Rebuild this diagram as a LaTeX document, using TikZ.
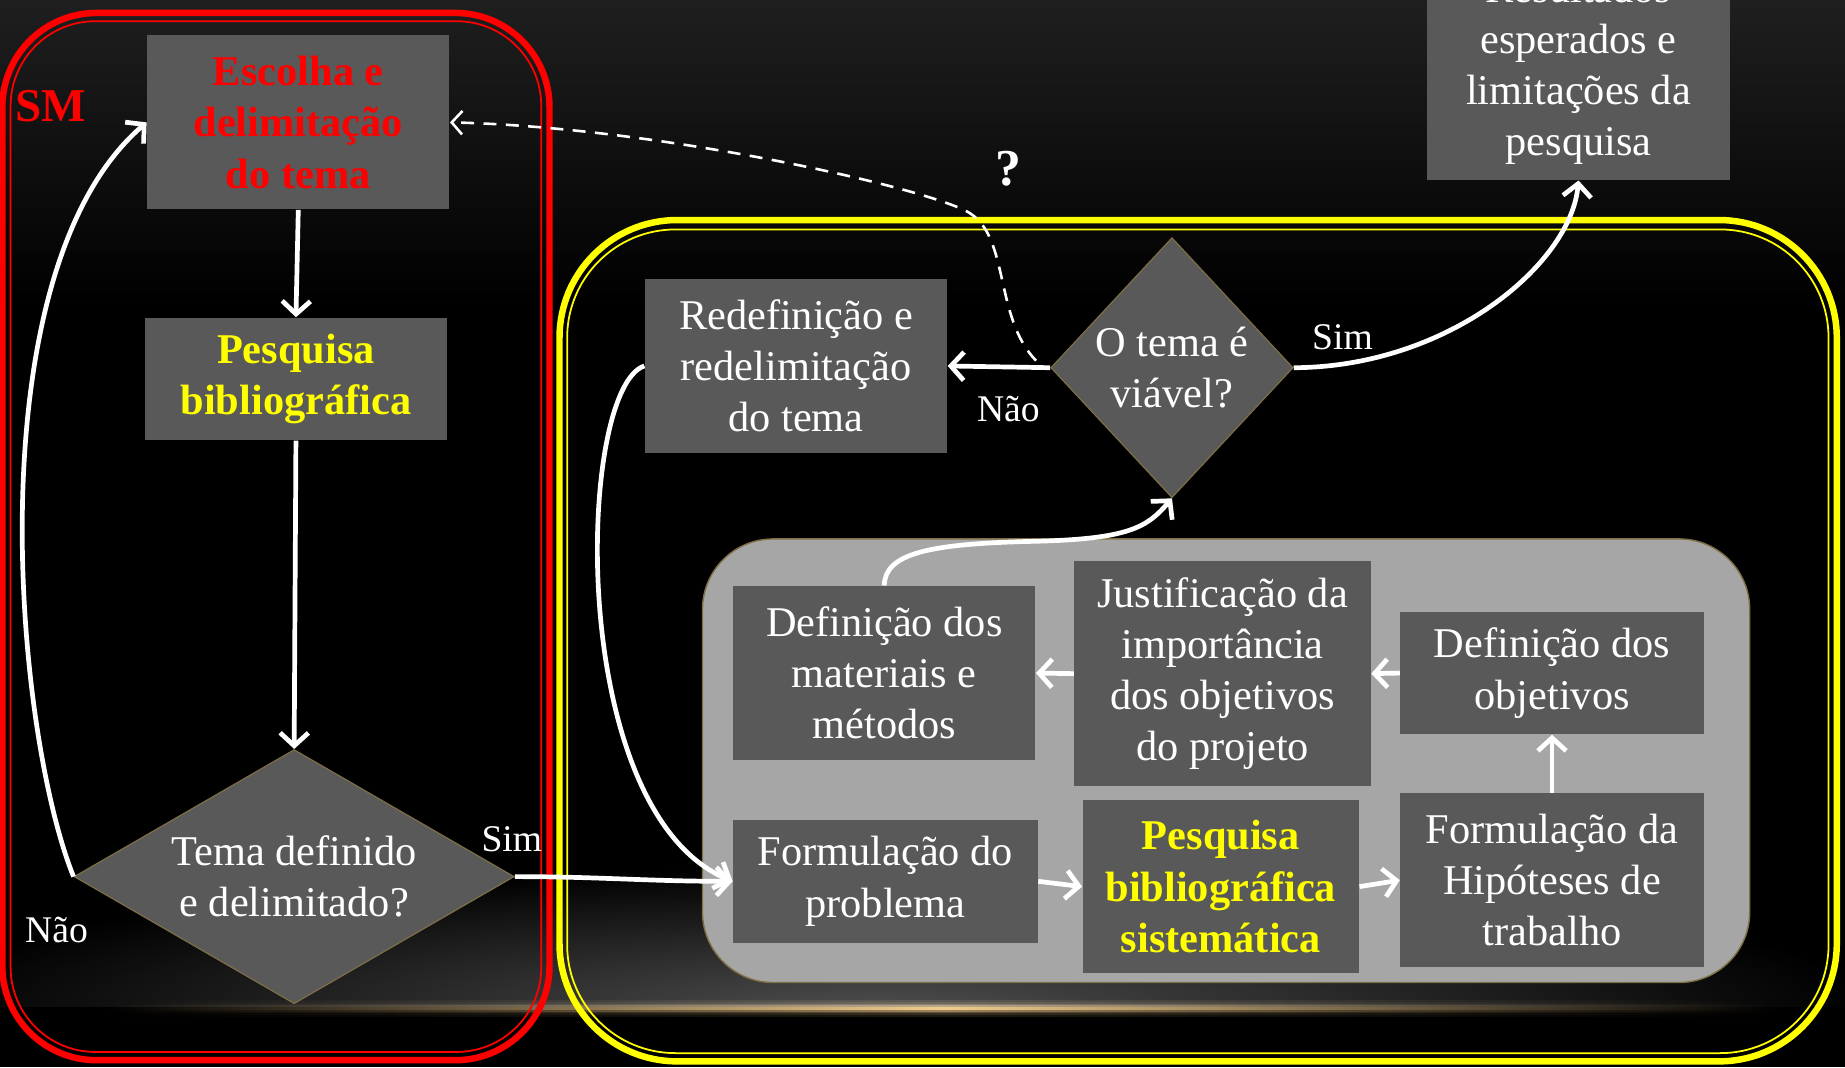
\documentclass[tikz,border=0pt]{standalone}
\usepackage{fontspec}
\setmainfont{Liberation Serif}
\usetikzlibrary{shapes.geometric,arrows.meta,fadings}

\definecolor{cinzacaixa}{HTML}{595959}
\definecolor{cinzapainel}{HTML}{A6A6A6}
\definecolor{borda}{HTML}{7F6F45}
\definecolor{fundo}{HTML}{1F1F1F}
\definecolor{brilho}{HTML}{F2CC8C}
\definecolor{vermelho}{HTML}{FF0000}
\definecolor{amarelo}{HTML}{FFFF00}

\newcommand\U{0.5pt}

\tikzfading[name=halo, inner color=transparent!0, outer color=transparent!100]

\tikzset{
  caixa/.style={rectangle, fill=cinzacaixa, text=white, align=center, inner sep=0pt,
    font=\fontsize{18}{21.75}\selectfont},
  losango/.style={diamond, fill=cinzacaixa, draw=borda, line width=0.5pt, text=white,
    align=center, inner sep=0pt, font=\fontsize{18}{21.75}\selectfont},
  negrito/.style={font=\fontsize{18}{21.75}\selectfont\bfseries},
  rotulo/.style={text=white, inner sep=0pt, font=\fontsize{16}{19}\selectfont},
  seta/.style={draw=white, line width=2pt, -{Straight Barb[length=5.5pt,width=12pt]}},
  tracejada/.style={draw=white, line width=1.1pt, dash pattern=on 5.5pt off 4pt,
    -{Straight Barb[length=4.5pt,width=10pt]}},
}

\begin{document}
\begin{tikzpicture}[x=\U, y=-\U]

% fundo
\useasboundingbox (0,0) rectangle (1568,907);
\fill[black] (0,0) rectangle (1568,907);
\shade[top color=fundo, bottom color=black] (0,0) rectangle (1568,260);
% linha de brilho
\foreach \h/\c in {7/12, 5/22, 3.5/40, 2.2/65, 1.2/100}
  \shade[left color=black, right color=black, middle color=brilho!\c!black] (90,857-\h) rectangle (1510,857+\h);
\begin{scope}
\clip (0,700) rectangle (1568,855);
\fill[white, opacity=0.3, path fading=halo] (750,857) ellipse (840 and 120);
\end{scope}

% molduras
\draw[vermelho, line width=2.75pt, rounded corners=40pt] (2,11) rectangle (467,901);
\draw[vermelho, line width=0.75pt, rounded corners=36pt] (9,18) rectangle (460,894);
\draw[amarelo, line width=2.75pt, rounded corners=50pt] (475.5,187) rectangle (1561,902);
\draw[amarelo, line width=0.75pt, rounded corners=46pt] (482,195) rectangle (1554,895);
\draw[fill=cinzapainel, draw=borda, line width=0.6pt, rounded corners=30pt] (597,458) rectangle (1487,835);

\node[text=vermelho, inner sep=0pt, font=\fontsize{20}{24}\selectfont\bfseries] (sm) at (43,90) {SM};

% coluna da esquerda
\node[caixa, negrito, text=vermelho, minimum width=257*\U, minimum height=148*\U] (escolha) at (253.5,104) {Escolha e\\delimitação\\do tema};
\node[caixa, negrito, text=amarelo, minimum width=257*\U, minimum height=104*\U] (pesq) at (251.5,322) {Pesquisa\\bibliográfica};
\node[losango, aspect=1.73, minimum width=374*\U, minimum height=216*\U] (temadef) at (250,745) {Tema definido\\e delimitado?};

% parte de cima
\node[caixa, minimum width=257*\U, minimum height=148*\U] (redef) at (676.5,311) {Redefinição e\\redelimitação\\do tema};
\node[losango, aspect=0.93, minimum width=206*\U, minimum height=221*\U] (viavel) at (996,312.5) {O tema é\\viável?};
\node[caixa, minimum width=257*\U, minimum height=189*\U] (result) at (1341.5,58.5) {Resultados\\esperados e\\limitações da\\pesquisa};

% painel cinza
\node[caixa, minimum width=257*\U, minimum height=148*\U] (materiais) at (751.5,572) {Definição dos\\materiais e\\métodos};
\node[caixa, minimum width=252*\U, minimum height=191*\U] (justif) at (1039,572.5) {Justificação da\\importância\\dos objetivos\\do projeto};
\node[caixa, minimum width=258*\U, minimum height=104*\U] (objetivos) at (1319,572) {Definição dos\\objetivos};
\node[caixa, minimum width=259*\U, minimum height=104*\U] (problema) at (752.5,749) {Formulação do\\problema};
\node[caixa, negrito, text=amarelo, minimum width=235*\U, minimum height=147*\U] (sistem) at (1037.5,753.5) {Pesquisa\\bibliográfica\\sistemática};
\node[caixa, minimum width=258*\U, minimum height=148*\U] (hipoteses) at (1319,748) {Formulação da\\Hipóteses de\\trabalho};

% rotulos
\node[rotulo] (nao1) at (48,790) {Não};
\node[rotulo] (sim1) at (435,713) {Sim};
\node[rotulo] (nao2) at (857,348) {Não};
\node[rotulo] (sim2) at (1141,287) {Sim};
\node[rotulo, font=\fontsize{22}{26}\selectfont\bfseries] (duvida) at (857,143) {?};

% setas
\draw[seta] (escolha.south) -- (pesq.north);
\draw[seta] (pesq.south) -- (temadef.north);
\draw[seta] (temadef.west) .. controls (12,620) and (-22,230) .. (escolha.west);
\draw[seta] (temadef.east) to[out=0, in=180] (problema.west);
\draw[seta] (redef.west) .. controls (490,330) and (480,690) .. (problema.west);
\draw[seta] (viavel.west) -- (redef.east);
\draw[tracejada] ([shift={(-12,-6)}]viavel.west) .. controls (845,270) and (858,202) .. (824,181)
  .. controls (790,160) and (560,108) .. (escolha.east);
\draw[seta] (viavel.east) .. controls (1230,312) and (1335,225) .. (result.south);
\draw[seta] (materiais.north) .. controls (752,470) and (790,462) .. (880,460)
  .. controls (960,458) and (975,448) .. (viavel.south);

\draw[seta] (problema.east) -- (sistem.west);
\draw[seta] (sistem.east) -- (hipoteses.west);
\draw[seta] (hipoteses.north) -- (objetivos.south);
\draw[seta] (objetivos.west) -- (justif.east);
\draw[seta] (justif.west) -- (materiais.east);

\end{tikzpicture}
\end{document}
